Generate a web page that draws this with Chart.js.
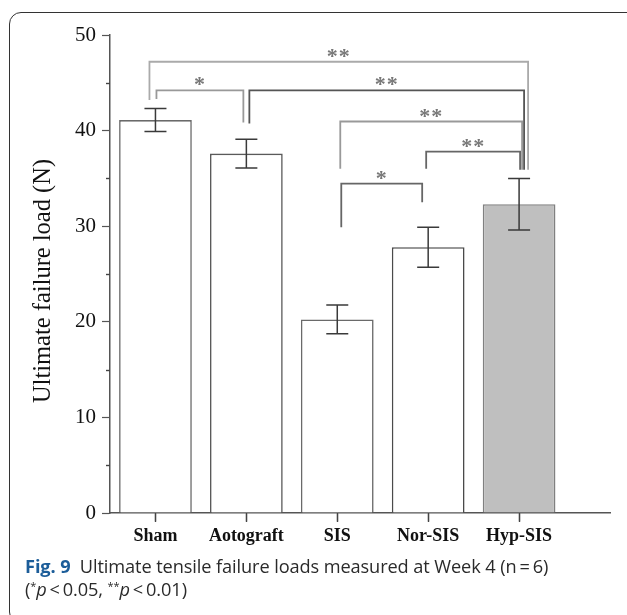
<!DOCTYPE html>
<html>
<head>
<meta charset="utf-8">
<script src="https://cdn.jsdelivr.net/npm/chart.js@4.4.0/dist/chart.umd.min.js"></script>
<style>
  html, body { margin: 0; padding: 0; background: #fff; }
  #wrap { position: relative; width: 627px; height: 615px; overflow: hidden; }
  #frame { position: absolute; left: 9px; top: 12px; width: 660px; height: 612px;
    border: 1.5px solid #333; border-radius: 12px; box-sizing: border-box; }
  canvas { position: absolute; left: 0; top: 0; }
  #caption { position: absolute; left: 25px; top: 555px; font-family: "Open Sans", sans-serif;
    font-size: 18.2px; line-height: 23px; color: #2a2a2a; letter-spacing: -0.1px; }
  #caption b { color: #1c5d99; font-weight: 700; }
  #caption sup { font-size: 11px; vertical-align: 6px; line-height: 0; }
</style>
</head>
<body>
<div id="wrap">
  <div id="frame"></div>
  <canvas id="chart" width="627" height="615"></canvas>
  <div id="caption"><b>Fig. 9</b>&nbsp; Ultimate tensile failure loads measured at Week 4 (n&thinsp;=&thinsp;6)<br>(<sup>*</sup><i>p</i>&thinsp;&lt;&thinsp;0.05, <sup>**</sup><i>p</i>&thinsp;&lt;&thinsp;0.01)</div>
</div>
<script>
const groups = ['Sham', 'Aotograft', 'SIS', 'Nor-SIS', 'Hyp-SIS'];
const loads = [41.1, 37.6, 20.25, 27.8, 32.3];
const errors = [1.2, 1.5, 1.5, 2.1, 2.7];
const yTicks = [0, 10, 20, 30, 40, 50];
const yTitle = 'Ultimate failure load (N)';

// significance brackets: group indices compared, bar height, leg ends (N), mark
const sigFrom = [0, 0, 1, 2, 3, 2];
const sigTo = [4, 1, 4, 4, 4, 3];
const sigLevel = [47.2, 44.2, 44.2, 40.95, 37.8, 34.45];
const sigLegFrom = [43.2, 43.3, 40.75, 36.0, 36.0, 29.9];
const sigLegTo = [35.9, 40.85, 35.9, 35.9, 35.9, 32.5];
const sigMark = ['**', '*', '**', '**', '**', '*'];

// small pixel nudges so the legs don't sit on top of each other
const sigDx = [[-6, 9], [1, -3], [3, 5], [3, 3], [-2, 1], [4, -6]];
const sigColors = ['#aaa', '#999', '#555', '#999', '#666', '#666'];

const serif = '"Liberation Serif", "Times New Roman", serif';

const extras = {
  id: 'extras',
  afterDatasetsDraw(chart) {
    const { ctx, scales: { x, y } } = chart;
    ctx.save();
    // minor ticks on y, category ticks on x
    ctx.strokeStyle = '#444';
    ctx.lineWidth = 1.4;
    for (let v = 5; v < 50; v += 10) {
      const py = Math.round(y.getPixelForValue(v)) + 0.5;
      ctx.beginPath();
      ctx.moveTo(x.left - 4, py);
      ctx.lineTo(x.left, py);
      ctx.stroke();
    }
    groups.forEach((g, i) => {
      const px = Math.round(x.getPixelForValue(i + 1)) + 0.5;
      ctx.beginPath();
      ctx.moveTo(px, y.bottom);
      ctx.lineTo(px, y.bottom + 9);
      ctx.stroke();
    });
    // error bars
    ctx.strokeStyle = '#3a3a3a';
    ctx.lineWidth = 1.5;
    loads.forEach((v, i) => {
      const px = x.getPixelForValue(i + 1);
      const top = y.getPixelForValue(v + errors[i]);
      const bot = y.getPixelForValue(v - errors[i]);
      ctx.beginPath();
      ctx.moveTo(px, top); ctx.lineTo(px, bot);
      ctx.moveTo(px - 11, top); ctx.lineTo(px + 11, top);
      ctx.moveTo(px - 11, bot); ctx.lineTo(px + 11, bot);
      ctx.stroke();
    });
    // brackets
    sigFrom.forEach((a, i) => {
      const x1 = x.getPixelForValue(a + 1) + sigDx[i][0];
      const x2 = x.getPixelForValue(sigTo[i] + 1) + sigDx[i][1];
      const py = y.getPixelForValue(sigLevel[i]);
      ctx.strokeStyle = sigColors[i];
      ctx.lineWidth = 1.8;
      ctx.beginPath();
      ctx.moveTo(x1, y.getPixelForValue(sigLegFrom[i]));
      ctx.lineTo(x1, py);
      ctx.lineTo(x2, py);
      ctx.lineTo(x2, y.getPixelForValue(sigLegTo[i]));
      ctx.stroke();
      ctx.fillStyle = '#777';
      ctx.font = 'bold 22px ' + serif;
      ctx.letterSpacing = '1px';
      ctx.textAlign = 'center';
      ctx.textBaseline = 'alphabetic';
      ctx.fillText(sigMark[i], (x1 + x2) / 2, py + 1);
    });
    ctx.letterSpacing = '0px';
    // y axis title
    ctx.translate(44, (y.top + y.bottom) / 2 + 7);
    ctx.rotate(-Math.PI / 2);
    ctx.fillStyle = '#111';
    ctx.font = '24.5px ' + serif;
    ctx.textAlign = 'center';
    ctx.textBaseline = 'middle';
    ctx.fillText(yTitle, 0, 0);
    ctx.restore();
  }
};

new Chart(document.getElementById('chart'), {
  type: 'bar',
  data: {
    datasets: [{
      data: loads.map((v, i) => ({ x: i + 1, y: v })),
      backgroundColor: ['#fff', '#fff', '#fff', '#fff', '#bfbfbf'],
      borderColor: ['#6a6a6a', '#5a5a5a', '#6a6a6a', '#4a4a4a', '#808080'],
      borderWidth: 1.6,
      categoryPercentage: 1,
      barPercentage: 0.8
    }]
  },
  options: {
    responsive: false,
    animation: false,
    layout: { padding: { left: 0, top: 35, right: 17, bottom: 62 } },
    plugins: { legend: { display: false }, tooltip: { enabled: false } },
    scales: {
      x: {
        type: 'linear',
        min: 0.5,
        max: 6,
        offset: false,
        afterBuildTicks: s => { s.ticks = groups.map((g, i) => ({ value: i + 1 })); },
        afterFit: s => { s.height = 40; },
        grid: { offset: false, drawOnChartArea: false, tickLength: 8, color: '#555', tickWidth: 1.2 },
        border: { color: '#555', width: 1.5 },
        ticks: {
          autoSkip: false,
          maxRotation: 0,
          padding: 5,
          color: '#111',
          font: { family: serif, size: 18, weight: 'bold' },
          callback: v => groups[v - 1]
        }
      },
      y: {
        min: 0,
        max: 50,
        afterBuildTicks: s => { s.ticks = yTicks.map(v => ({ value: v })); },
        afterFit: s => { s.width = 110; },
        grid: { drawOnChartArea: false, tickLength: 8, color: '#555', tickWidth: 1.2 },
        border: { color: '#555', width: 1.5 },
        ticks: {
          padding: 6,
          color: '#111',
          font: { family: serif, size: 21 }
        }
      }
    }
  },
  plugins: [extras]
});
</script>
</body>
</html>
